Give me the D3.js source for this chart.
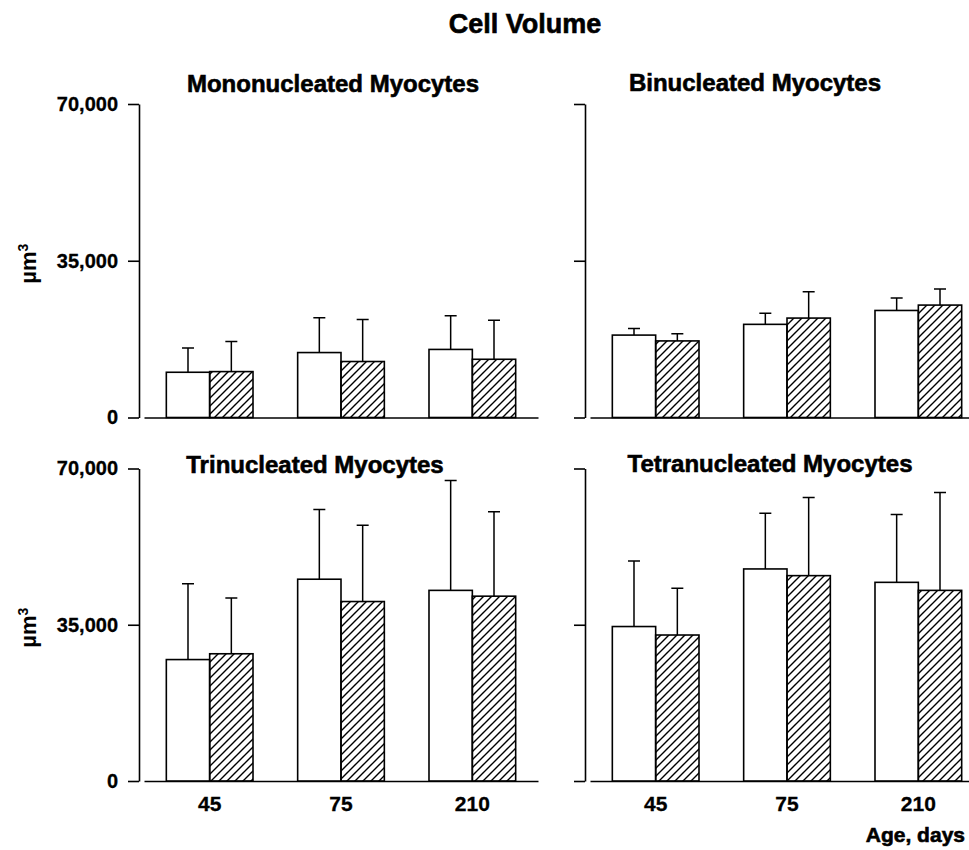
<!DOCTYPE html>
<html lang="en">
<head>
<meta charset="utf-8">
<title>Cell Volume</title>
<script src="https://cdn.jsdelivr.net/npm/d3@7"></script>
<style>
  body { margin: 0; background: #fff; }
  svg text { font-family: "Liberation Sans", Arial, sans-serif; font-weight: bold; fill: #000; }
  .heavy { stroke: #000; stroke-width: 0.6px; }
  .axis path, .axis line { stroke: #000; stroke-width: 1.6px; }
  .axis text { font-size: 20px; stroke: #000; stroke-width: 0.3px; }
  .xaxis text { font-size: 21px; }
  .bar { stroke: #000; stroke-width: 1.6px; }
  .err { stroke: #000; stroke-width: 1.5px; fill: none; }
</style>
</head>
<body>
<div id="chart"></div>
<script>
// data
var ages = ["45", "75", "210"];
var panelTitles = ["Mononucleated Myocytes", "Binucleated Myocytes",
                   "Trinucleated Myocytes", "Tetranucleated Myocytes"];
var yTicks = [0, 35000, 70000];

// open bars (mean, SD) by panel, then by age
var openMean = [[10100, 14500, 15200], [18400, 20800, 23900],
                [27200, 45200, 42700], [34600, 47500, 44500]];
var openSD   = [[5400, 7800, 7500], [1500, 2500, 2800],
                [17000, 15600, 24600], [14700, 12500, 15200]];
// hatched bars
var hatchMean = [[10250, 12500, 13000], [17100, 22200, 25100],
                 [28500, 40200, 41400], [32700, 46000, 42700]];
var hatchSD   = [[6700, 9400, 8700], [1600, 5900, 3600],
                 [12500, 17100, 18900], [10500, 17500, 21900]];

// layout
var W = 969, H = 850;
var colX = [139, 585];              // y axis position per column
var rowY = [[417.5, 104], [781, 468.5]]; // [zero, top] per row
var titleX = [333, 755, 315, 770];
var titleY = [91.5, 90.5, 473, 471.5];

var svg = d3.select("#chart").append("svg")
    .attr("width", W).attr("height", H);

svg.append("defs").append("pattern")
    .attr("id", "hatch")
    .attr("patternUnits", "userSpaceOnUse")
    .attr("width", 8).attr("height", 8)
  .append("path")
    .attr("d", "M-2,2 l4,-4 M0,8 l8,-8 M6,10 l4,-4")
    .attr("stroke", "#000")
    .attr("stroke-width", 1.4);

svg.append("text")
    .attr("class", "heavy")
    .attr("x", 525).attr("y", 33)
    .attr("text-anchor", "middle")
    .style("font-size", "27px")
    .text("Cell Volume");

panelTitles.forEach(function(title, i) {
  var col = i % 2, row = Math.floor(i / 2);
  var ax = colX[col];

  var y = d3.scaleLinear().domain([0, 70000]).range(rowY[row]);
  var x = d3.scaleBand().domain(ages)
      .range([ax + 5, ax + 399])
      .paddingInner(0.34).paddingOuter(0.17);
  var sub = d3.scaleBand().domain(["open", "hatch"]).range([0, x.bandwidth()]);

  var g = svg.append("g");

  // y axis
  g.append("g")
      .attr("class", "axis")
      .attr("transform", "translate(" + ax + ",0)")
      .call(d3.axisLeft(y).tickValues(yTicks).tickSize(11).tickSizeOuter(0)
        .tickPadding(10)
        .tickFormat(col === 0 ? d3.format(",") : function() { return ""; }));

  // baseline + age labels
  g.append("g")
      .attr("class", "axis xaxis")
      .attr("transform", "translate(0," + y(0) + ")")
      .call(d3.axisBottom(x).tickSize(0).tickSizeOuter(0).tickPadding(15)
        .tickFormat(row === 1 ? null : function() { return ""; }));

  var data = ages.map(function(a, j) {
    return [
      {age: a, key: "open", mean: openMean[i][j], sd: openSD[i][j]},
      {age: a, key: "hatch", mean: hatchMean[i][j], sd: hatchSD[i][j]}
    ];
  }).flat();

  // error bars first so the bars cover them
  var eb = g.selectAll(".eb").data(data).enter().append("g");
  eb.append("path")
      .attr("class", "err")
      .attr("d", function(d) {
        var cx = x(d.age) + sub(d.key) + sub.bandwidth() / 2;
        var top = y(d.mean + d.sd);
        return "M" + cx + "," + y(d.mean) + "V" + top +
               "M" + (cx - 6) + "," + top + "H" + (cx + 6);
      });

  g.selectAll(".bar").data(data).enter().append("rect")
      .attr("class", "bar")
      .attr("x", function(d) { return x(d.age) + sub(d.key); })
      .attr("width", sub.bandwidth())
      .attr("y", function(d) { return y(d.mean); })
      .attr("height", function(d) { return y(0) - y(d.mean); })
      .attr("fill", function(d) { return d.key === "open" ? "#fff" : "url(#hatch)"; });

  g.append("text")
      .attr("class", "heavy")
      .attr("x", titleX[i]).attr("y", titleY[i])
      .attr("text-anchor", "middle")
      .style("font-size", "24px")
      .text(title);

  if (col === 0) {
    var lab = g.append("text")
        .attr("transform", "translate(36," + (y(35000) + 3) + ") rotate(-90)")
        .attr("text-anchor", "middle")
        .style("font-size", "22px");
    lab.append("tspan").text("µm");
    lab.append("tspan").attr("dy", "-0.6em").style("font-size", "14px").text("3");
  }
});

svg.append("text")
    .attr("class", "heavy")
    .attr("x", 965).attr("y", 842)
    .attr("text-anchor", "end")
    .style("font-size", "21px")
    .text("Age, days");
</script>
</body>
</html>
